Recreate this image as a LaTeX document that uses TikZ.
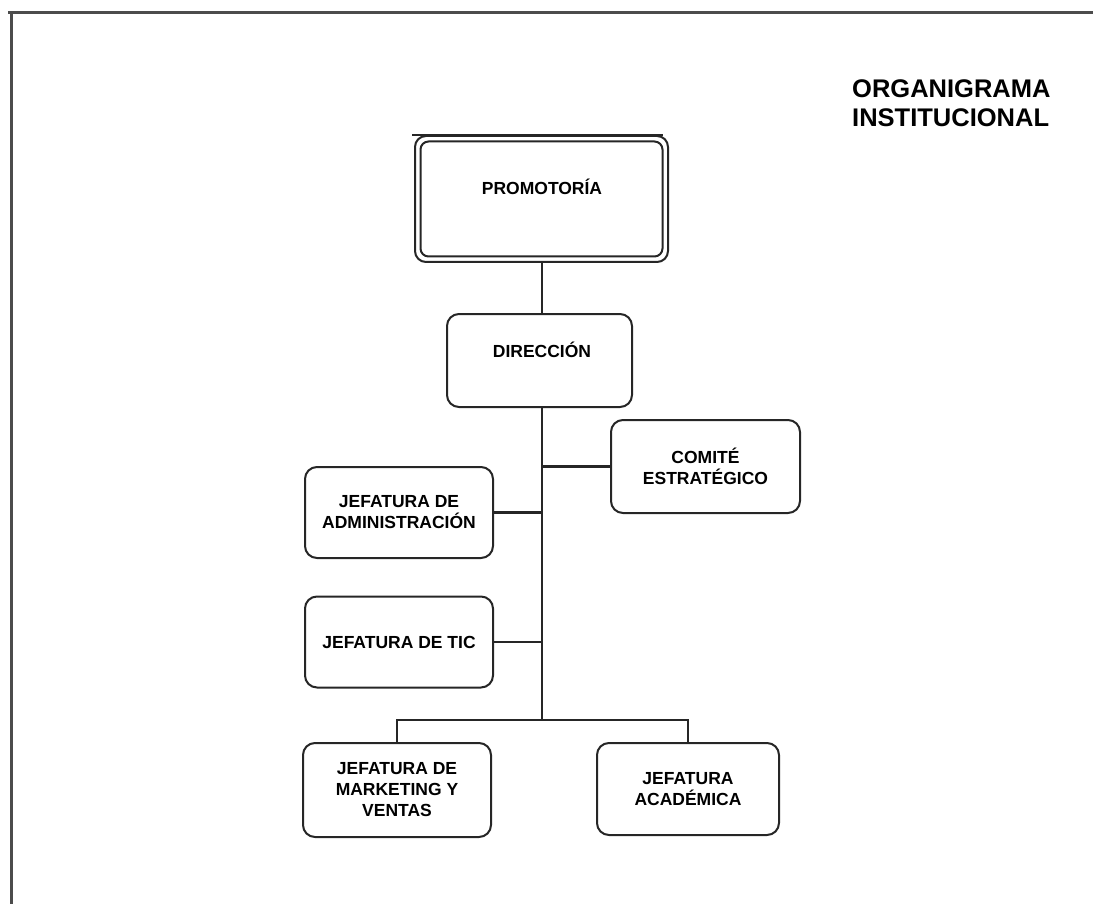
\documentclass[tikz,border=0pt]{standalone}
\usepackage{fontspec}
\setmainfont{Liberation Sans}
\begin{document}
\begin{tikzpicture}[x=1pt,y=-1pt,
  frameline/.style={draw=black!70,line width=3pt},
  unitbox/.style={draw=black!85,line width=2pt,rounded corners=12pt,
    inner sep=0pt,align=center,
    font=\fontsize{17.5}{21}\selectfont\bfseries},
  boxtext/.style={inner sep=0pt,align=center,
    font=\fontsize{17.5}{21}\selectfont\bfseries},
  link/.style={draw=black!85,line width=2.2pt},
  titletext/.style={inner sep=0pt,anchor=base west,
    font=\fontsize{25.5}{28}\selectfont\bfseries}]
\useasboundingbox (0,0) rectangle (1093,904);

% page frame: top and left edges
\draw[frameline] (8,13) -- (1093,13);
\draw[frameline] (11,12) -- (11,904);

% title
\node[titletext] (title1) at (852,98) {ORGANIGRAMA};
\node[titletext] (title2) at (852,127) {INSTITUCIONAL};

% top unit: double rounded border with a heavier top edge
\node[unitbox,rounded corners=11pt,minimum width=253pt,minimum height=126pt] (prom) at (541.5,199) {};
\node[unitbox,rounded corners=8pt,minimum width=242pt,minimum height=115pt] (prominner) at (541.5,199) {};
\draw[link] ([xshift=-2pt]prom.north west) -- ([xshift=-6pt]prom.north east);
\node[boxtext] (promtext) at (542,187) {PROMOTORÍA};

% direction
\node[unitbox,minimum width=185pt,minimum height=93pt] (dir) at (539.5,360.5) {};
\node[boxtext] (dirtext) at (542,350) {DIRECCIÓN};

% dependent units
\node[unitbox,minimum width=189pt,minimum height=93pt] (comite) at (705.5,466.5) {COMITÉ\\ESTRATÉGICO};
\node[unitbox,minimum width=188pt,minimum height=91pt] (admin) at (399,512.5) {JEFATURA DE\\ADMINISTRACIÓN};
\node[unitbox,minimum width=188pt,minimum height=91pt] (tic) at (399,642) {JEFATURA DE TIC};
\node[unitbox,minimum width=188pt,minimum height=94pt] (mkt) at (397,790) {JEFATURA DE\\MARKETING Y\\VENTAS};
\node[unitbox,minimum width=182pt,minimum height=92pt] (acad) at (688,789) {JEFATURA\\ACADÉMICA};

% connectors
\coordinate (bus) at (542,720);
\draw[link] (prom.south -| bus) -- (dir.north -| bus);
\draw[link] (dir.south -| bus) -- (bus);
\draw[link] (bus |- comite.west) -- (comite.west);
\draw[link] (admin.east) -- (admin.east -| bus);
\draw[link] (tic.east) -- (tic.east -| bus);
\draw[link] (mkt.north) |- (bus) -| (acad.north);
\end{tikzpicture}
\end{document}
